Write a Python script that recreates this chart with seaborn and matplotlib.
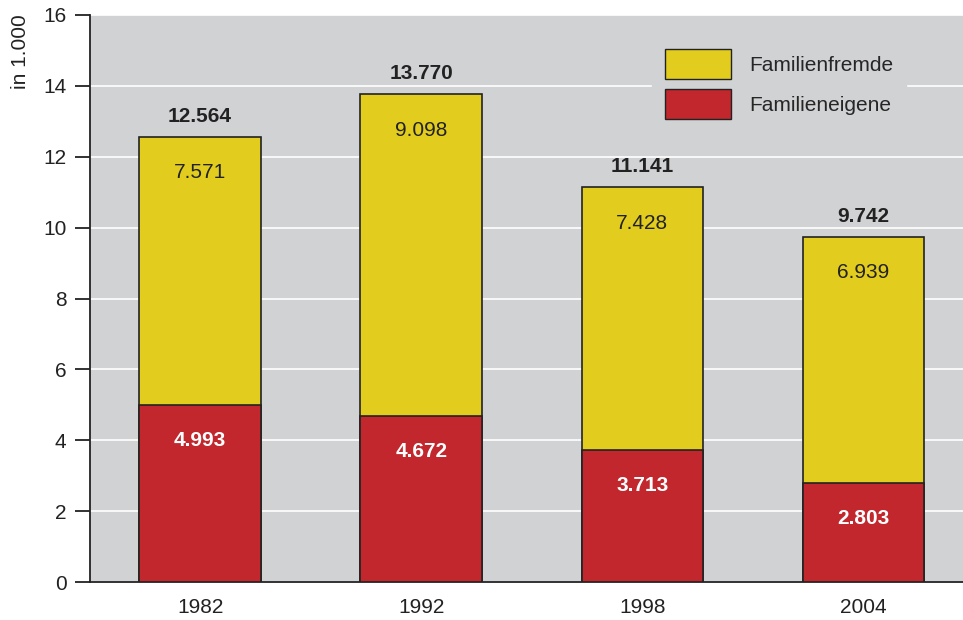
import pandas as pd
import numpy as np
import seaborn as sns
import matplotlib.pyplot as plt
from matplotlib.patches import Patch

years = ['1982', '1992', '1998', '2004']
familieneigene = [4.993, 4.672, 3.713, 2.803]
familienfremde = [7.571, 9.098, 7.428, 6.939]
gesamt = [12.564, 13.770, 11.141, 9.742]

yellow = '#E2CD1E'
red = '#C1272D'
bg = '#D1D2D4'

sns.set_style('white')
plt.rcParams['font.family'] = ['Liberation Sans', 'DejaVu Sans']

df = pd.DataFrame({'Jahr': years, 'eigene': familieneigene,
                   'fremde': familienfremde, 'gesamt': gesamt})

fig = plt.figure(figsize=(9.63, 6.2), dpi=100)
ax = fig.add_axes([90 / 963, 38 / 620, 873 / 963, 567 / 620])
ax.set_facecolor(bg)

sns.barplot(data=df, x='Jahr', y='gesamt', color=yellow, width=0.55,
            edgecolor='#222222', linewidth=1.2, saturation=1, ax=ax, zorder=2)
sns.barplot(data=df, x='Jahr', y='eigene', color=red, width=0.55,
            edgecolor='#222222', linewidth=1.2, saturation=1, ax=ax, zorder=3)

def fmt(v):
    return f'{v:.3f}'

fs = 15
for i in range(len(years)):
    ax.text(i, gesamt[i] + 0.57, fmt(gesamt[i]), ha='center', va='center',
            fontsize=fs, fontweight='bold', color='#222222', zorder=5)
    ax.text(i, gesamt[i] - 1.02, fmt(familienfremde[i]), ha='center', va='center',
            fontsize=fs, color='#222222', zorder=5)
    ax.text(i, familieneigene[i] - 1.0, fmt(familieneigene[i]), ha='center', va='center',
            fontsize=fs, fontweight='bold', color='white', zorder=5)

ax.set_ylim(0, 16)
ax.set_xlim(-0.498, 3.45)
ax.set_yticks(range(0, 17, 2))
ax.yaxis.grid(True, color='white', linewidth=1.2, zorder=0)
ax.set_axisbelow(True)
ax.tick_params(axis='y', left=True, length=11, width=1.3, color='#222222',
               labelsize=fs, pad=6, labelcolor='#222222')
ax.tick_params(axis='x', bottom=False, labelsize=fs, pad=8, labelcolor='#222222')
ax.set_xlabel('')
ax.set_ylabel('')
for s in ['top', 'right']:
    ax.spines[s].set_visible(False)
for s in ['left', 'bottom']:
    ax.spines[s].set_color('#222222')
    ax.spines[s].set_linewidth(1.3)

fig.text(20 / 963, 1 - 14 / 620, 'in 1.000', rotation=90, ha='center', va='top',
         fontsize=fs, color='#222222')

handles = [Patch(facecolor=yellow, edgecolor='#222222', label='Familienfremde'),
           Patch(facecolor=red, edgecolor='#222222', label='Familieneigene')]
leg = ax.legend(handles=handles, loc='upper left', bbox_to_anchor=(0.632, 0.981),
                frameon=True, fontsize=fs, handlelength=3.2, handleheight=1.88,
                labelspacing=0.45, handletextpad=0.85, borderpad=0.6)
leg.get_frame().set_facecolor(bg)
leg.get_frame().set_edgecolor(bg)
leg.get_frame().set_alpha(1)

fig.savefig('out.png', dpi=100)
